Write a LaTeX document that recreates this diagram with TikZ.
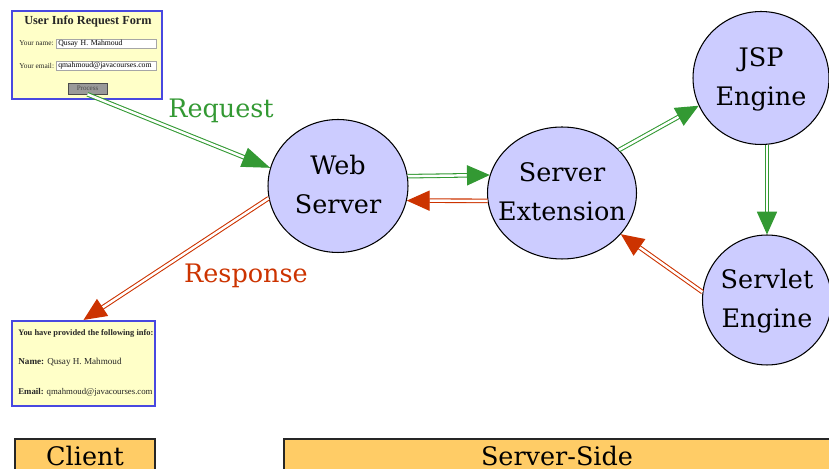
\documentclass[tikz,border=0pt]{standalone}
\usepackage{fontspec}
\setmainfont{DejaVu Serif}
\newfontfamily\formfont{Liberation Serif}
\usetikzlibrary{arrows.meta,positioning,shapes.geometric}

\definecolor{reqgreen}{HTML}{339933}
\definecolor{resred}{HTML}{CC3300}
\definecolor{nodeblue}{HTML}{CCCCFF}
\definecolor{formyellow}{HTML}{FFFFC8}
\definecolor{formblue}{HTML}{4848E0}
\definecolor{sideorange}{HTML}{FFCC66}
\newcommand{\twolines}[2]{\makebox[0pt]{\begin{tabular}{@{}c@{}}#1\\#2\end{tabular}}}

\begin{document}
\begin{tikzpicture}[x=0.02cm, y=-0.02cm,
    engine/.style={ellipse, draw=black, line width=0.6pt, fill=nodeblue, inner sep=0pt, font=\fontsize{14.5}{22}\selectfont},
    page/.style={rectangle, draw=formblue, line width=1.2pt, fill=formyellow, inner sep=0pt},
    field/.style={rectangle, draw=black!35, fill=white, anchor=west, inner xsep=0.04cm, inner ysep=0pt, text width=1.92cm, minimum height=0.18cm, align=left, font=\formfont\fontsize{4.4}{5}\selectfont},
    formtext/.style={anchor=west, inner sep=0pt, text=black!85, font=\formfont\fontsize{4.2}{5}\selectfont},
    side/.style={rectangle, draw=black!85, line width=1pt, fill=sideorange, minimum height=0.68cm, inner sep=0pt, font=\fontsize{14.5}{17}\selectfont},
    req/.style={draw=reqgreen, double=white, double distance=1.4pt, line width=0.6pt, -{Triangle[length=13pt,width=11.5pt]}},
    res/.style={req, draw=resred}]
  \useasboundingbox (0,0) rectangle (829,469);

  % request form
  \node[page, minimum width=3cm, minimum height=1.76cm] (form) at (87,55) {};
  \node[inner sep=0pt, text=black!85, font=\formfont\fontsize{7}{8}\selectfont\bfseries] (title) at (88,21) {User Info Request Form};
  \node[formtext] (namelbl) at (19,43.5) {Your name:};
  \node[field] (namebox) at (56,43.5) {Qusay H. Mahmoud};
  \node[formtext] (maillbl) at (19,65.5) {Your email:};
  \node[field] (mailbox) at (56,65.5) {qmahmoud@javacourses.com};
  \node[rectangle, draw=black!70, fill=black!40, minimum width=0.78cm, minimum height=0.22cm, inner sep=0pt, text=black!70, font=\formfont\fontsize{4}{5}\selectfont] (btn) at (87.5,88.5) {Process};

  % response page
  \node[page, minimum width=2.86cm, minimum height=1.7cm] (resp) at (83.5,363.5) {};
  \node[formtext, font=\formfont\fontsize{4.8}{5}\selectfont\bfseries] (resptitle) at (18,333) {You have provided the following info:};
  \node[formtext, font=\formfont\fontsize{5.2}{6}\selectfont] (respname) at (18,362) {\textbf{Name:} Qusay H. Mahmoud};
  \node[formtext, font=\formfont\fontsize{5}{6}\selectfont] (respmail) at (18,392) {\textbf{Email:} qmahmoud@javacourses.com};

  % servers
  \node[engine, minimum width=2.8cm, minimum height=2.66cm] (web) at (338,186) {\twolines{Web}{Server}};
  \node[engine, minimum width=2.98cm, minimum height=2.64cm] (ext) at (562,193) {\twolines{Server}{Extension}};
  \node[engine, minimum width=2.72cm, minimum height=2.66cm] (jsp) at (761,78) {\twolines{JSP}{Engine}};
  \node[engine, minimum width=2.58cm, minimum height=2.6cm] (servlet) at (767,300) {\twolines{Servlet}{Engine}};

  \node[text=reqgreen, font=\fontsize{14.5}{17}\selectfont] (reqlbl) at (221,111) {Request};
  \node[text=resred, font=\fontsize{14.5}{17}\selectfont] (reslbl) at (246,276) {Response};

  \draw[req, -{Triangle[length=16pt,width=11.5pt]}] (btn.south) -- (web.165);
  \draw[req] (web.8) -- (ext.166);
  \draw[res] (ext.186) -- (web.-12);
  \draw[req] (ext.37) -- (jsp.204);
  \draw[req] (jsp.south -| servlet.north) -- (servlet.north);
  \draw[res] (servlet.173) -- (ext.-35);
  \draw[res] (web.190) -- (resp.north);

  % sides
  \node[side, minimum width=2.8cm] (client) at (85,456) {Client};
  \node[side, minimum width=10.92cm] (serverside) at (557,456) {Server-Side};
\end{tikzpicture}
\end{document}
